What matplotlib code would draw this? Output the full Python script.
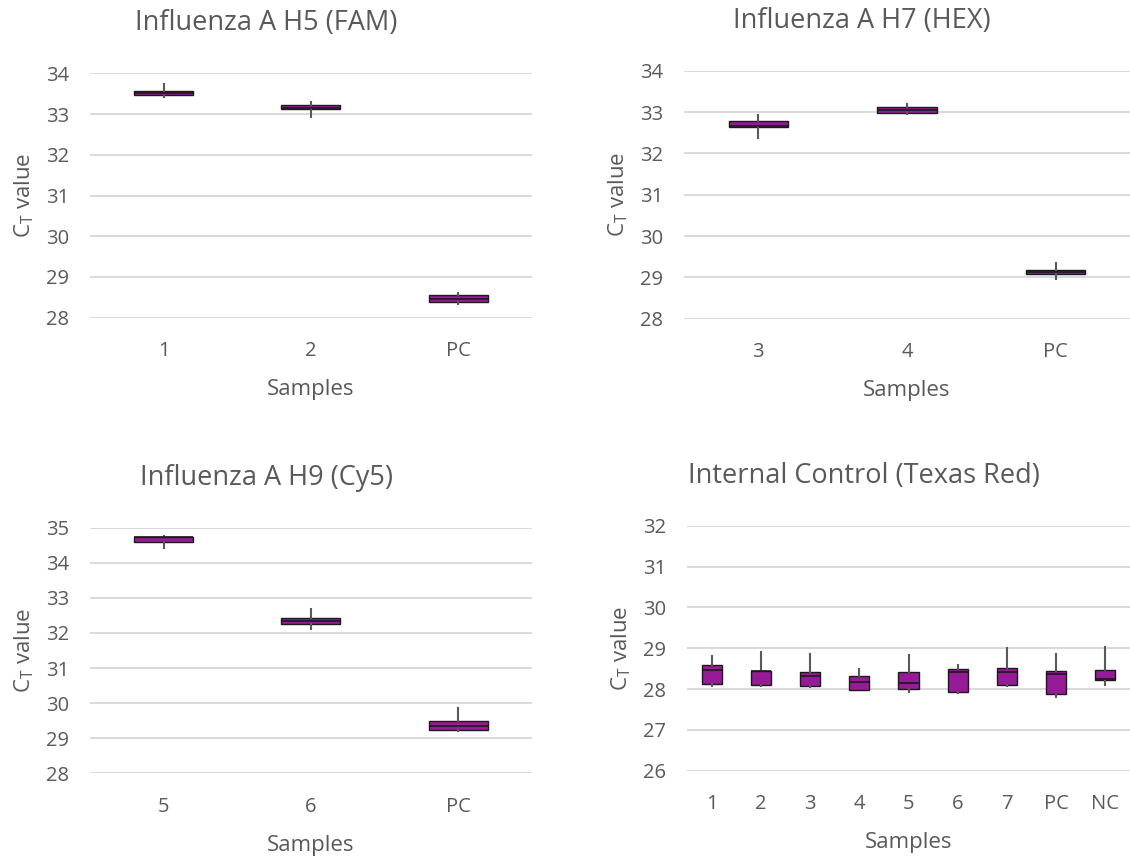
import matplotlib
matplotlib.use('Agg')
import matplotlib.pyplot as plt

plt.rcParams['font.family'] = ['Open Sans', 'DejaVu Sans']

# box statistics: (whisker low, q1, median, q3, whisker high)
h5_labels = ['1', '2', 'PC']
h5_whislo = [33.41, 32.93, 28.33]
h5_q1 = [33.46, 33.12, 28.38]
h5_med = [33.52, 33.16, 28.47]
h5_q3 = [33.57, 33.21, 28.55]
h5_whishi = [33.74, 33.30, 28.60]

h7_labels = ['3', '4', 'PC']
h7_whislo = [32.37, 32.96, 28.97]
h7_q1 = [32.65, 32.98, 29.09]
h7_med = [32.66, 33.04, 29.14]
h7_q3 = [32.78, 33.11, 29.18]
h7_whishi = [32.94, 33.20, 29.35]

h9_labels = ['5', '6', 'PC']
h9_whislo = [34.41, 32.11, 29.21]
h9_q1 = [34.60, 32.25, 29.24]
h9_med = [34.73, 32.33, 29.36]
h9_q3 = [34.74, 32.42, 29.50]
h9_whishi = [34.76, 32.69, 29.87]

ic_labels = ['1', '2', '3', '4', '5', '6', '7', 'PC', 'NC']
ic_whislo = [28.08, 28.08, 28.04, 27.98, 27.93, 27.91, 28.08, 27.81, 28.09]
ic_q1 = [28.12, 28.11, 28.08, 27.98, 28.01, 27.93, 28.11, 27.87, 28.21]
ic_med = [28.46, 28.43, 28.32, 28.18, 28.16, 28.42, 28.42, 28.37, 28.25]
ic_q3 = [28.59, 28.44, 28.42, 28.33, 28.42, 28.49, 28.51, 28.44, 28.47]
ic_whishi = [28.82, 28.90, 28.86, 28.50, 28.83, 28.58, 29.00, 28.86, 29.04]

TEXT = '#595959'
FILL = '#971A97'
GRID = '#D9D9D9'

W, H = 1130, 859


def box_panel(rect, title, labels, whislo, q1, med, q3, whishi, ylim, width):
    ax = fig.add_axes(rect)
    stats = []
    for i in range(len(labels)):
        stats.append(dict(whislo=whislo[i], q1=q1[i], med=med[i], q3=q3[i],
                          whishi=whishi[i], fliers=[], label=labels[i]))
    ax.bxp(stats, widths=width, showfliers=False, showcaps=False, patch_artist=True,
           boxprops=dict(facecolor=FILL, edgecolor='#1a1a1a', linewidth=1.0),
           medianprops=dict(color='#1a1a1a', linewidth=1.2),
           whiskerprops=dict(color='#595959', linewidth=1.5),
           zorder=3)
    ax.set_xlim(0.5, len(labels) + 0.5)
    ax.set_ylim(*ylim)
    ax.set_yticks(range(ylim[0], ylim[1] + 1))
    ax.grid(axis='y', color=GRID, linewidth=1.4, zorder=0)
    ax.set_axisbelow(True)
    for s in ax.spines.values():
        s.set_visible(False)
    ax.tick_params(axis='both', length=0, labelsize=14.5, colors=TEXT)
    ax.tick_params(axis='y', pad=15)
    ax.tick_params(axis='x', pad=17)
    ax.set_xlabel('Samples', fontsize=16, color=TEXT, labelpad=13)
    ax.set_ylabel(r'C$_\mathregular{T}$ value', fontsize=16, color=TEXT, labelpad=7)
    ax.set_title(title, fontsize=19.5, color=TEXT, x=0.399, pad=31)
    return ax


fig = plt.figure(figsize=(W / 100, H / 100), dpi=100)

box_panel([90 / W, 1 - 317.7 / H, 441.7 / W, 244.4 / H], 'Influenza A H5 (FAM)',
          h5_labels, h5_whislo, h5_q1, h5_med, h5_q3, h5_whishi, (28, 34), 0.4)
box_panel([684 / W, 1 - 318.7 / H, 446 / W, 248 / H], 'Influenza A H7 (HEX)',
          h7_labels, h7_whislo, h7_q1, h7_med, h7_q3, h7_whishi, (28, 34), 0.4)
box_panel([90 / W, 1 - 773.3 / H, 441.7 / W, 245.6 / H], 'Influenza A H9 (Cy5)',
          h9_labels, h9_whislo, h9_q1, h9_med, h9_q3, h9_whishi, (28, 35), 0.4)
box_panel([687 / W, 1 - 770.7 / H, 443 / W, 245 / H], 'Internal Control (Texas Red)',
          ic_labels, ic_whislo, ic_q1, ic_med, ic_q3, ic_whishi, (26, 32), 0.41)

fig.savefig('out.png', dpi=100)
